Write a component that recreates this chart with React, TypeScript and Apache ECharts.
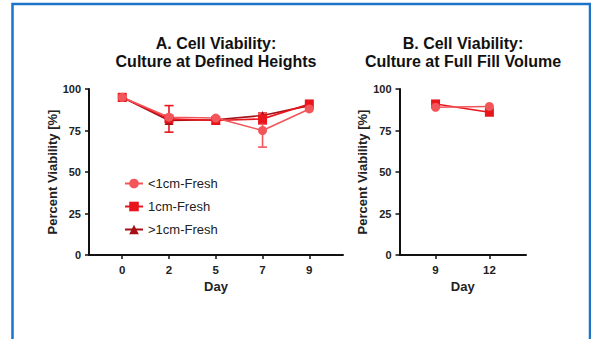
import React, { useEffect, useRef } from "react";
import * as echarts from "echarts";

const daysA = ["0", "2", "5", "7", "9"];
const lt1A = [95, 83, 82.5, 75, 88];
const eq1A = [95, 82, 81, 82, 91];
const gt1A = [95, 81, 81.5, 84, 90];
// error bars: [category index, low, high]
const errLt1A = [[3, 65, 85]];
const errEq1A = [[1, 74, 90], [3, 79, 85.5]];

const daysB = ["9", "12"];
const lt1B = [89, 89.5];
const eq1B = [91, 86];

const yTicks = [0, 25, 50, 75, 100];
const seriesNames = ["<1cm-Fresh", "1cm-Fresh", ">1cm-Fresh"];
const colors = ["#f2555a", "#e8161c", "#a50f15"];

const FONT = "Arial, 'Liberation Sans', Helvetica, sans-serif";

export default function App() {
  const ref = useRef<HTMLDivElement>(null);
  useEffect(() => {
    const chart = echarts.init(ref.current!, null, { renderer: "svg" });
    const toPts = (arr: number[]) => arr.map((v, i) => [i, v]);
    const xAxisBase = (cats: string[], min: number, max: number, idx: number) => ({
      type: "value",
      gridIndex: idx,
      min,
      max,
      splitLine: { show: false },
      axisLine: { show: true, onZero: false, lineStyle: { color: "#111", width: 2 } },
      axisTick: {
        show: true,
        length: 4,
        lineStyle: { color: "#111", width: 1.5 },
        customValues: cats.map((_, i) => i),
      },
      axisLabel: {
        customValues: cats.map((_, i) => i),
        formatter: (v: number) => cats[Math.round(v)] ?? "",
        fontFamily: FONT,
        fontWeight: "bold",
        fontSize: 11.5,
        color: "#222",
        margin: 9,
      },
      name: "Day",
      nameLocation: "middle",
      nameGap: 25,
      nameTextStyle: { fontFamily: FONT, fontWeight: "bold", fontSize: 13, color: "#222" },
    });
    const yAxisBase = (idx: number) => ({
      type: "value",
      gridIndex: idx,
      min: 0,
      max: 100,
      interval: 25,
      splitLine: { show: false },
      axisLine: { show: true, onZero: false, lineStyle: { color: "#111", width: 2 } },
      axisTick: { show: true, length: 4, lineStyle: { color: "#111", width: 1.5 } },
      axisLabel: {
        fontFamily: FONT,
        fontWeight: "bold",
        fontSize: 11,
        color: "#222",
        margin: 8,
        formatter: (v: number) => (yTicks.includes(v) ? String(v) : ""),
      },
      name: "Percent Viability [%]",
      nameLocation: "middle",
      nameRotate: 90,
      nameGap: 29,
      nameTextStyle: { fontFamily: FONT, fontWeight: "bold", fontSize: 13, color: "#222" },
    });
    const errSeries = (data: number[][], color: string, xi: number) => ({
      type: "custom",
      xAxisIndex: xi,
      yAxisIndex: xi,
      data,
      encode: { x: 0, y: [1, 2] },
      z: 3,
      renderItem: (params: any, api: any) => {
        const x = api.value(0);
        const hi = api.coord([x, api.value(2)]);
        const lo = api.coord([x, api.value(1)]);
        const w = 4.5;
        const st = { stroke: color, lineWidth: 1.6 };
        return {
          type: "group",
          children: [
            { type: "line", shape: { x1: hi[0], y1: hi[1], x2: lo[0], y2: lo[1] }, style: st },
            { type: "line", shape: { x1: hi[0] - w, y1: hi[1], x2: hi[0] + w, y2: hi[1] }, style: st },
            { type: "line", shape: { x1: lo[0] - w, y1: lo[1], x2: lo[0] + w, y2: lo[1] }, style: st },
          ],
        };
      },
    });
    const lineSeries = (name: string, data: number[], symbol: string, color: string, xi: number, size = 9) => ({
      type: "line",
      name,
      xAxisIndex: xi,
      yAxisIndex: xi,
      data: toPts(data),
      symbol,
      symbolSize: size,
      showSymbol: true,
      color,
      lineStyle: { color, width: 1.6 },
      itemStyle: { color },
      z: 4,
    });
    const titleText = (t: string, x: number, y: number) => ({
      type: "text",
      x,
      y,
      style: {
        text: t,
        textAlign: "center",
        textVerticalAlign: "middle",
        fontFamily: FONT,
        fontWeight: "bold",
        fontSize: 16,
        fill: "#111",
      },
    });
    chart.setOption({
      animation: false,
      backgroundColor: "#fff",
      grid: [
        { left: 89, top: 89, width: 254, height: 166 },
        { left: 399.5, top: 89, width: 126.5, height: 166 },
      ],
      xAxis: [xAxisBase(daysA, -0.71, 4.72, 0), xAxisBase(daysB, -0.67, 1.68, 1)],
      yAxis: [yAxisBase(0), yAxisBase(1)],
      legend: {
        data: seriesNames,
        orient: "vertical",
        left: 119,
        top: 172,
        itemWidth: 18,
        itemHeight: 12,
        itemGap: 10,
        textStyle: { fontFamily: FONT, fontSize: 13, color: "#222", lineHeight: 12 },
      },
      graphic: [
        {
          type: "rect",
          shape: { x: 12.5, y: 4, width: 577.5, height: 360 },
          style: { fill: "none", stroke: "#1b74c8", lineWidth: 2.5 },
          silent: true,
        },
        titleText("A. Cell Viability:", 216, 43),
        titleText("Culture at Defined Heights", 216, 61.5),
        titleText("B. Cell Viability:", 463, 43),
        titleText("Culture at Full Fill Volume", 463, 61.5),
      ],
      series: [
        errSeries(errEq1A, colors[1], 0),
        errSeries(errLt1A, colors[0], 0),
        lineSeries(seriesNames[2], gt1A, "triangle", colors[2], 0, 9),
        lineSeries(seriesNames[1], eq1A, "rect", colors[1], 0, 9),
        lineSeries(seriesNames[0], lt1A, "circle", colors[0], 0, 9),
        lineSeries(seriesNames[1], eq1B, "rect", colors[1], 1, 9),
        lineSeries(seriesNames[0], lt1B, "circle", colors[0], 1, 9),
      ],
    });
    return () => chart.dispose();
  }, []);
  return (
    <div
      ref={ref}
      style={{ position: "fixed", left: 0, top: 0, width: 591, height: 339, background: "#fff" }}
    />
  );
}
